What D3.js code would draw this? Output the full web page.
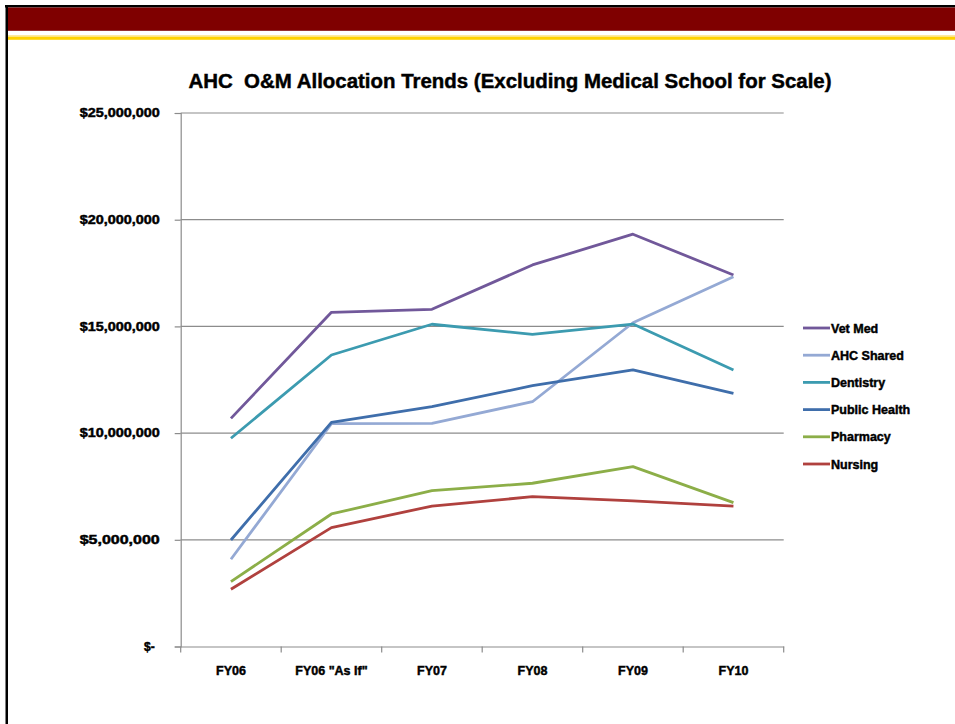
<!DOCTYPE html>
<html>
<head>
<meta charset="utf-8">
<script src="https://cdn.jsdelivr.net/npm/d3@7/dist/d3.min.js"></script>
<style>
  html, body { margin: 0; padding: 0; background: #fff; }
  svg { display: block; }
  text { font-family: "Liberation Sans", Arial, sans-serif; font-weight: bold; fill: #000; white-space: pre; }
  .heavy { stroke: #000; stroke-width: 0.45px; }
</style>
</head>
<body>
<svg id="chart" width="955" height="724"></svg>
<script>
// Fiscal-year categories
const categories = ["FY06", "FY06 \"As If\"", "FY07", "FY08", "FY09", "FY10"];

// O&M allocation per unit (dollars)
const vetMed       = [10690000, 15660000, 15800000, 17880000, 19320000, 17410000];
const ahcShared    = [ 4090000, 10440000, 10460000, 11470000, 15170000, 17330000];
const dentistry    = [ 9760000, 13660000, 15100000, 14630000, 15110000, 12960000];
const publicHealth = [ 4990000, 10500000, 11240000, 12220000, 12960000, 11860000];
const pharmacy     = [ 3040000,  6210000,  7300000,  7650000,  8430000,  6740000];
const nursing      = [ 2680000,  5570000,  6580000,  7020000,  6820000,  6580000];

const seriesNames  = ["Vet Med", "AHC Shared", "Dentistry", "Public Health", "Pharmacy", "Nursing"];
const seriesValues = [vetMed, ahcShared, dentistry, publicHealth, pharmacy, nursing];
const seriesColors = ["#71589a", "#94a9d4", "#3c9bb0", "#3f6eab", "#8cae48", "#b0413e"];

// Value axis ticks
const yTicks = [0, 5000000, 10000000, 15000000, 20000000, 25000000];

const svg = d3.select("#chart");

// Slide frame: border lines, maroon band and gold rule
svg.append("rect").attr("x", 5).attr("y", 5).attr("width", 950).attr("height", 2.5).attr("fill", "#000");
svg.append("rect").attr("x", 5.5).attr("y", 5).attr("width", 2.5).attr("height", 719).attr("fill", "#000");
svg.append("rect").attr("x", 8).attr("y", 7.5).attr("width", 947).attr("height", 23.3).attr("fill", "#7f0000");
svg.append("rect").attr("x", 8).attr("y", 35).attr("width", 947).attr("height", 2).attr("fill", "#fde9a0");
svg.append("rect").attr("x", 8).attr("y", 36.8).attr("width", 947).attr("height", 3).attr("fill", "#ffd200");

// Plot area
const plot = { left: 180.7, right: 783.7, top: 113, bottom: 646.5 };

const x = d3.scaleBand().domain(categories).range([plot.left, plot.right]);
const y = d3.scaleLinear().domain([0, 25000000]).range([plot.bottom, plot.top]);

// Title
svg.append("text")
  .attr("class", "heavy")
  .attr("x", 510).attr("y", 88)
  .attr("text-anchor", "middle")
  .attr("font-size", 20)
  .attr("textLength", 643)
  .attr("lengthAdjust", "spacingAndGlyphs")
  .text("AHC  O&M Allocation Trends (Excluding Medical School for Scale)");

// Horizontal gridlines
svg.append("g")
  .selectAll("line")
  .data(yTicks.filter(d => d > 0))
  .join("line")
  .attr("x1", plot.left).attr("x2", plot.right)
  .attr("y1", d => y(d)).attr("y2", d => y(d))
  .attr("stroke", "#8c8c8c").attr("stroke-width", 1.2);

// Y axis
const fmtMoney = d => d === 0 ? "$-" : "$" + d3.format(",")(d);
const yAxis = svg.append("g")
  .attr("transform", `translate(${plot.left},0)`)
  .call(d3.axisLeft(y).tickValues(yTicks).tickSize(6).tickPadding(15).tickFormat(fmtMoney));
yAxis.select(".domain").attr("stroke", "#8c8c8c").attr("stroke-width", 1.2);
yAxis.selectAll(".tick line").attr("stroke", "#8c8c8c").attr("stroke-width", 1.2);
yAxis.selectAll(".tick text")
  .attr("class", "heavy")
  .attr("font-size", 12)
  .style("font-family", "\"Liberation Sans\", Arial, sans-serif")
  .style("font-weight", "bold")
  .attr("fill", "#000")
  .attr("dx", d => d === 0 ? -5 : 0)
  .attr("textLength", d => d === 0 ? null : 80)
  .attr("lengthAdjust", "spacingAndGlyphs");

// X axis
const xAxis = svg.append("g")
  .attr("transform", `translate(0,${plot.bottom})`)
  .call(d3.axisBottom(x).tickSize(0).tickPadding(20));
xAxis.select(".domain").attr("stroke", "#8c8c8c").attr("stroke-width", 1.2);
xAxis.selectAll(".tick text")
  .attr("class", "heavy")
  .attr("font-size", 12.5)
  .style("font-family", "\"Liberation Sans\", Arial, sans-serif")
  .style("font-weight", "bold")
  .attr("fill", "#000");
// Category boundary tick marks
svg.append("g")
  .selectAll("line")
  .data(categories.map((c, i) => i).concat([categories.length]))
  .join("line")
  .attr("x1", i => plot.left + i * x.step())
  .attr("x2", i => plot.left + i * x.step())
  .attr("y1", plot.bottom).attr("y2", plot.bottom + 6)
  .attr("stroke", "#8c8c8c").attr("stroke-width", 1.2);

// Series lines
const line = d3.line()
  .x((d, i) => x(categories[i]) + x.bandwidth() / 2)
  .y(d => y(d));

svg.append("g")
  .selectAll("path")
  .data(seriesValues)
  .join("path")
  .attr("d", d => line(d))
  .attr("fill", "none")
  .attr("stroke", (d, i) => seriesColors[i])
  .attr("stroke-width", 2.8)
  .attr("stroke-linejoin", "round");

// Legend
const legend = svg.append("g").attr("transform", "translate(803,328)");
const items = legend.selectAll("g")
  .data(seriesNames)
  .join("g")
  .attr("transform", (d, i) => `translate(0,${i * 27.2})`);
items.append("line")
  .attr("x1", 0).attr("x2", 27)
  .attr("y1", 0).attr("y2", 0)
  .attr("stroke", (d, i) => seriesColors[i])
  .attr("stroke-width", 2.8);
items.append("text")
  .attr("class", "heavy")
  .attr("x", 28).attr("y", 4.5)
  .attr("font-size", 12.5)
  .text(d => d);
</script>
</body>
</html>
